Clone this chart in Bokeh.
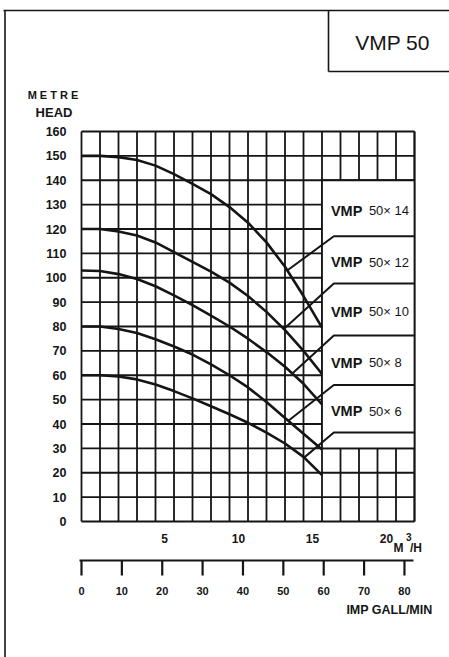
from bokeh.plotting import figure
from bokeh.models import Range1d
from bokeh.embed import file_html
from bokeh.resources import INLINE
from bokeh.core.properties import value

# ---------------- data ----------------
flow = [0, 1.25, 2.5, 3.75, 5, 6.25, 7.5, 8.75, 10, 11.25, 12.5, 13.75, 15, 16.25]   # m3/h
head_14 = [150, 150, 149.5, 148.3, 146, 142.5, 138.5, 134.3, 129, 122.6, 114.5, 104.5, 92.5, 79.5]
head_12 = [120, 120, 119, 117.3, 114.5, 110.5, 106.5, 102.5, 98, 92.5, 86, 78.5, 70, 60.5]
head_10 = [103, 102.8, 101.5, 99.5, 96.5, 92.8, 88.8, 84.5, 80, 75, 69.5, 63.5, 56.5, 48]
head_8 = [80, 80, 79, 77.3, 74.8, 71.8, 68.5, 64.5, 60, 55, 49, 42.5, 36, 29.5]
head_6 = [60, 60, 59.5, 58.3, 56.2, 53.5, 50.5, 47.3, 44, 40.5, 36.5, 32, 26.5, 19]
curves = [head_14, head_12, head_10, head_8, head_6]

model_prefix = "VMP"
model_suffix = ["50\u00d7 14", "50\u00d7 12", "50\u00d7 10", "50\u00d7 8", "50\u00d7 6"]
leader_from_x = [13.9, 13.67, 14.3, 14.0, 15.0]
leader_from_y = [103, 79, 61, 41.4, 26]
leader_to_y = [117, 97.6, 76.3, 56, 36.5]
box_top, box_bottom, box_left = 140, 30, 16.25

head_ticks = [0, 10, 20, 30, 40, 50, 60, 70, 80, 90, 100, 110, 120, 130, 140, 150, 160]
flow_ticks = [5, 10, 15, 20]
gall_ticks = [0, 10, 20, 30, 40, 50, 60, 70, 80]
GAL_PER_M3H = 3.6662          # imp gal/min per m3/h
x_max, y_max = 22.5, 160
grid_step_x = 1.25

# ---------------- geometry ----------------
W, H = 449, 657
OFF = 0
FL, FR, FT, FB = 81, 414, 131, 521          # grid frame in picture pixels
sx = (FR - FL) / x_max
sy = (FB - FT) / y_max


def X(px):
    return (px - FL) / sx


def Y(py):
    return (FB - py) / sy


INK = "#151515"
p = figure(width=W, height=H,
           x_range=Range1d(X(OFF), X(OFF + W)), y_range=Range1d(Y(OFF + H), Y(OFF)),
           output_backend="svg", toolbar_location=None, title=None, min_border=0,
           x_axis_location=None, y_axis_location=None, outline_line_color=None,
           background_fill_color="white", border_fill_color="white")
p.grid.visible = False

# grid
n_vx = int(round(x_max / grid_step_x)) + 1
gx = [i * grid_step_x for i in range(n_vx)]
p.segment(x0=gx, y0=[0] * len(gx), x1=gx, y1=[y_max] * len(gx), line_color=INK, line_width=1.8)
p.segment(x0=[0] * len(head_ticks), y0=head_ticks, x1=[x_max] * len(head_ticks), y1=head_ticks,
          line_color=INK, line_width=1.8)

# white label panel
p.quad(left=[box_left], right=[x_max], bottom=[box_bottom], top=[box_top], fill_color="white", line_color=None)
p.segment(x0=[box_left, x_max, box_left, box_left], y0=[box_bottom, 0, box_bottom, box_top],
          x1=[box_left, x_max, x_max, x_max], y1=[box_top, y_max, box_bottom, box_top],
          line_color=INK, line_width=1.8)

# curves
for hd in curves:
    p.line(flow, hd, line_color=INK, line_width=2.6, line_join="round")

# leaders and separators
knee_x = 17.05
xs = [[fx, knee_x, x_max] for fx in leader_from_x]
ys = [[fy, ty, ty] for fy, ty in zip(leader_from_y, leader_to_y)]
p.multi_line(xs, ys, line_color=INK, line_width=2.0)

bounds = [box_top] + leader_to_y
label_y = [(bounds[i] + bounds[i + 1]) / 2 - 1 for i in range(len(model_suffix))]
label_x = 16.85
p.text(x=[label_x] * len(label_y), y=label_y, text=[model_prefix] * len(label_y),
       text_font=value("Liberation Sans"), text_font_style="bold", text_font_size="14.5px",
       text_align="left", text_baseline="middle", text_color=INK)
p.text(x=[label_x] * len(label_y), y=label_y, text=model_suffix, x_offset=38,
       text_font=value("Liberation Sans"), text_font_size="13px",
       text_align="left", text_baseline="middle", text_color=INK)

# y tick labels
p.text(x=[X(66)] * len(head_ticks), y=head_ticks, text=[str(t) for t in head_ticks],
       text_font=value("Liberation Sans"), text_font_style="bold", text_font_size="12.5px",
       text_align="right", text_baseline="middle", text_color=INK)

# m3/h labels
p.text(x=flow_ticks, y=[Y(538)] * len(flow_ticks), text=[str(t) for t in flow_ticks], x_offset=9,
       text_font=value("Liberation Sans"), text_font_style="bold", text_font_size="12px",
       text_align="center", text_baseline="middle", text_color=INK)
p.text(x=[X(393), X(409.5)], y=[Y(547), Y(547)], text=["M", "/H"],
       text_font=value("Liberation Sans"), text_font_style="bold", text_font_size="12px",
       text_align="left", text_baseline="middle", text_color=INK)
p.text(x=[X(405.5)], y=[Y(536)], text=["3"],
       text_font=value("Liberation Sans"), text_font_style="bold", text_font_size="10px",
       text_align="left", text_baseline="middle", text_color=INK)

# imp gall/min scale
gpx = [g / GAL_PER_M3H for g in gall_ticks]
p.segment(x0=[X(79)], y0=[Y(560)], x1=[X(413)], y1=[Y(560)], line_color=INK, line_width=2.2)
p.segment(x0=gpx, y0=[Y(560)] * len(gpx), x1=gpx, y1=[Y(575)] * len(gpx), line_color=INK, line_width=2.2)
p.text(x=gpx, y=[Y(590)] * len(gpx), text=[str(g) for g in gall_ticks],
       text_font=value("Liberation Sans"), text_font_style="bold", text_font_size="11px",
       text_align="center", text_baseline="middle", text_color=INK)
p.text(x=[X(432)], y=[Y(609.5)], text=["IMP GALL/MIN"],
       text_font=value("Liberation Sans"), text_font_style="bold", text_font_size="12.5px",
       text_align="right", text_baseline="middle", text_color=INK)

# axis title
p.text(x=[X(52.5)], y=[Y(94)], text=["M E T R E"],
       text_font=value("Liberation Sans"), text_font_style="bold", text_font_size="11px",
       text_align="center", text_baseline="middle", text_color=INK)
p.text(x=[X(53.5)], y=[Y(112)], text=["HEAD"],
       text_font=value("Liberation Sans"), text_font_style="bold", text_font_size="13px",
       text_align="center", text_baseline="middle", text_color=INK)

# outer frame and title box
p.segment(x0=[X(3), X(4.5), X(328), X(328)], y0=[Y(10), Y(10), Y(10), Y(71)],
          x1=[X(449), X(4.5), X(328), X(449)], y1=[Y(10), Y(657), Y(71), Y(71)],
          line_color=INK, line_width=1.6)
p.text(x=[X(392)], y=[Y(42)], text=["VMP 50"],
       text_font=value("Liberation Sans"), text_font_size="21px",
       text_align="center", text_baseline="middle", text_color=INK)

open("out.html", "w").write(file_html(p, INLINE))
